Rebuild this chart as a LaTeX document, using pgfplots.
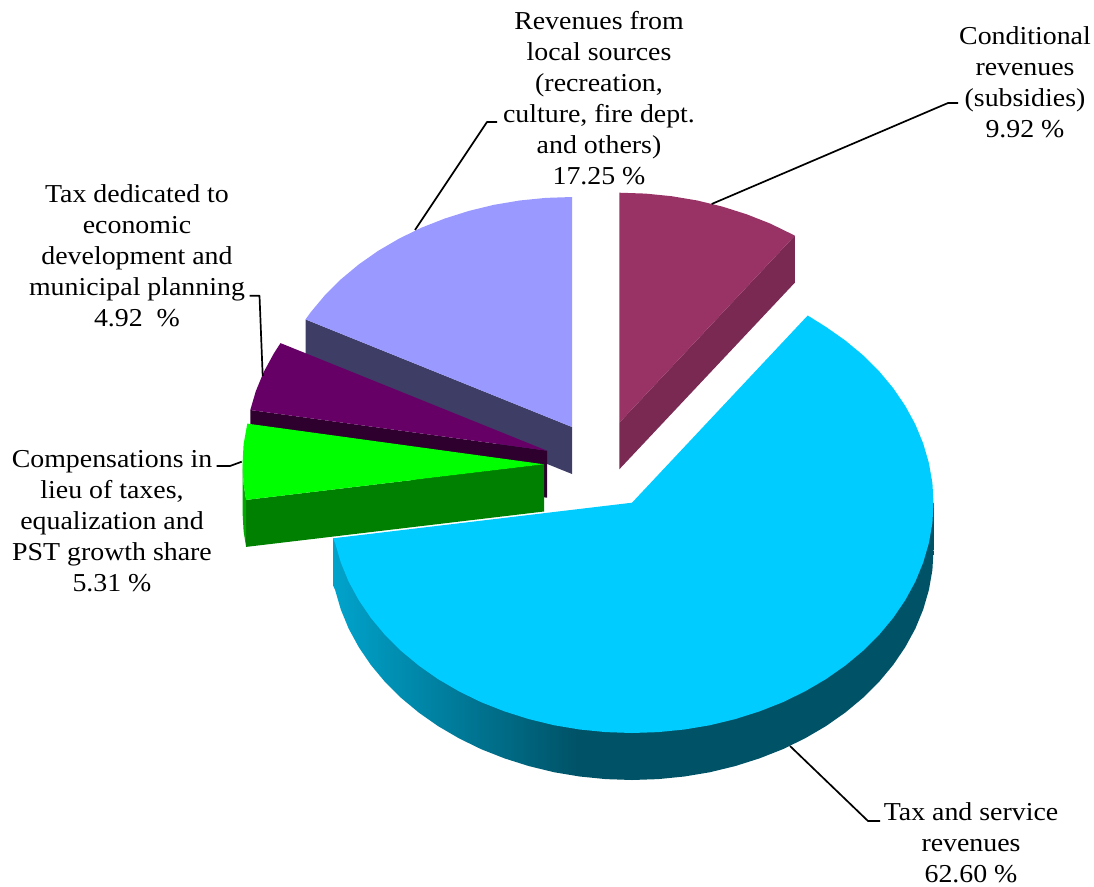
\documentclass[border=0pt]{standalone}
\usepackage{fontspec}
\setmainfont[FakeStretch=1.08]{Liberation Serif}
\usepackage{pgfplots}
\pgfplotsset{compat=1.18}

\definecolor{condTop}{HTML}{993366}
\definecolor{condSide}{HTML}{7A2952}
\definecolor{localTop}{HTML}{9999FF}
\definecolor{localSide}{HTML}{3D3D66}
\definecolor{devTop}{HTML}{660066}
\definecolor{devSide}{HTML}{2D002D}
\definecolor{compTop}{HTML}{00FF00}
\definecolor{compSide}{HTML}{008000}
\definecolor{compRim}{HTML}{00A800}
\definecolor{taxTop}{HTML}{00CCFF}

% rim of the largest slice: lit on the left, dark from about 41% across
% (a path's bounding box covers the range 25bp to 75bp of a shading)
\pgfdeclarehorizontalshading{taxrim}{100bp}{%
  rgb(0bp)=(0,0.64,0.80);
  rgb(25bp)=(0,0.64,0.80);
  rgb(45.5bp)=(0,0.32,0.40);
  rgb(100bp)=(0,0.32,0.40)}

\begin{document}
\begin{tikzpicture}
\path (0,0) rectangle (1094pt,886pt);
\begin{axis}[
  anchor=south west, at={(0,0)},
  width=1094pt, height=886pt, scale only axis,
  xmin=0, xmax=1094, ymin=0, ymax=886, y dir=reverse,
  hide axis, clip=false,
  every axis plot/.append style={line join=round},
]
% Revenues from local sources, 17.25 %
\addplot[draw=none, fill=localSide] coordinates {(305.5,319.4)(305.5,366.4)(572,474)(572,427)} -- cycle;
\addplot[draw=none, fill=localTop] coordinates {
  (572,197)(545.7,197.9)(519.7,200.5)(494,204.8)(468.9,210.9)(444.6,218.6)(421.2,227.8)
  (399.1,238.6)(378.2,250.8)(358.8,264.4)(341,279.2)(325,295.1)(310.9,312)(305.5,319.4)(572,427)} -- cycle;

% Conditional revenues, 9.92 %
\addplot[draw=none, fill=condSide] coordinates {(794.8,235.7)(794.8,282.7)(619.3,469.3)(619.3,422.7)} -- cycle;
\addplot[draw=none, fill=condTop] coordinates {
  (619.3,192.7)(645.6,193.6)(671.6,196.2)(697.3,200.5)(722.4,206.6)(746.7,214.3)(770.1,223.5)
  (792.2,234.3)(794.8,235.7)(619.3,422.7)} -- cycle;

% Tax dedicated to economic development, 4.92 %
\addplot[draw=none, fill=devSide] coordinates {(250.3,410)(250.3,457)(547,497.7)(547,450.7)} -- cycle;
\addplot[draw=none, fill=devTop] coordinates {
  (280.5,343.1)(273.8,353.5)(263.7,372)(255.8,391.2)(250.3,410)(547,450.7)} -- cycle;

% Compensations in lieu of taxes, 5.31 %
\addplot[draw=none, fill=compRim] coordinates {
  (242.5,464.3)(242.5,511.3)(243.6,531.3)(246.1,546.9)(246.1,499.9)(243.6,484.3)} -- cycle;
\addplot[draw=none, fill=compSide] coordinates {(246.1,499.9)(246.1,546.9)(544,511.5)(544,464.3)} -- cycle;
\addplot[draw=none, fill=compTop] coordinates {
  (247.3,423.6)(243.6,444.3)(242.5,464.3)(243.6,484.3)(246.1,499.9)(544,464.3)} -- cycle;

% Tax and service revenues, 62.60 %
\addplot[draw=none, shading=taxrim] coordinates {
  (933.5,503)(933.5,550)(932.4,570)(928.9,589.9)(923.2,609.5)(915.3,628.7)(905.2,647.2)
  (893.1,665)(879,681.9)(863,697.8)(845.2,712.6)(825.8,726.2)(804.9,738.4)(782.8,749.2)
  (759.4,758.4)(735.1,766.1)(710,772.2)(684.3,776.5)(658.3,779.1)(632,780)(605.7,779.1)
  (579.7,776.5)(554,772.2)(528.9,766.1)(504.6,758.4)(481.2,749.2)(459.1,738.4)(438.2,726.2)
  (418.8,712.6)(401,697.8)(385,681.9)(370.9,665)(358.8,647.2)(348.7,628.7)(340.8,609.5)
  (335.1,589.9)(333,585.3)(333,538.3)} -- cycle;
\addplot[draw=none, fill=taxTop] coordinates {
  (807.7,315.5)(825.8,326.8)(845.2,340.4)(863,355.2)(879,371.1)(893.1,388)(905.2,405.8)
  (915.3,424.3)(923.2,443.5)(928.9,463.1)(932.4,483)(933.5,503)(932.4,523)(928.9,542.9)
  (923.2,562.5)(915.3,581.7)(905.2,600.2)(893.1,618)(879,634.9)(863,650.8)(845.2,665.6)
  (825.8,679.2)(804.9,691.4)(782.8,702.2)(759.4,711.4)(735.1,719.1)(710,725.2)(684.3,729.5)
  (658.3,732.1)(632,733)(605.7,732.1)(579.7,729.5)(554,725.2)(528.9,719.1)(504.6,711.4)
  (481.2,702.2)(459.1,691.4)(438.2,679.2)(418.8,665.6)(401,650.8)(385,634.9)(370.9,618)
  (358.8,600.2)(348.7,581.7)(340.8,562.5)(335.1,542.9)(333,538.3)(632,502.7)} -- cycle;

% Leader lines
\addplot[black, line width=1.7pt] coordinates {(711.7,204)(948,103)(958,103)};
\addplot[black, line width=1.7pt] coordinates {(415,230)(487,122)(497,122)};
\addplot[black, line width=1.7pt] coordinates {(262.7,376)(259.5,295.7)(249.5,295.7)};
\addplot[black, line width=1.7pt] coordinates {(241.7,461.7)(230,466)(216.7,466)};
\addplot[black, line width=1.7pt] coordinates {(790,746)(868,821)(880,821)};

% Slice labels
\tikzset{slice label/.style={align=center, inner sep=0pt, text=black,
  font=\fontsize{25.8}{31}\selectfont}}
\node[slice label] at (axis cs:599,98) {Revenues from\\local sources\\(recreation,\\culture, fire dept.\\and others)\\17.25 \%};
\node[slice label] at (axis cs:1025,82) {Conditional\\revenues\\(subsidies)\\9.92 \%};
\node[slice label] at (axis cs:137,256) {Tax dedicated to\\economic\\development and\\municipal planning\\4.92\ \ \%};
\node[slice label] at (axis cs:112,521) {Compensations in\\lieu of taxes,\\equalization and\\PST growth share\\5.31 \%};
\node[slice label] at (axis cs:971,842.5) {Tax and service\\revenues\\62.60 \%};
\end{axis}
\end{tikzpicture}
\end{document}
